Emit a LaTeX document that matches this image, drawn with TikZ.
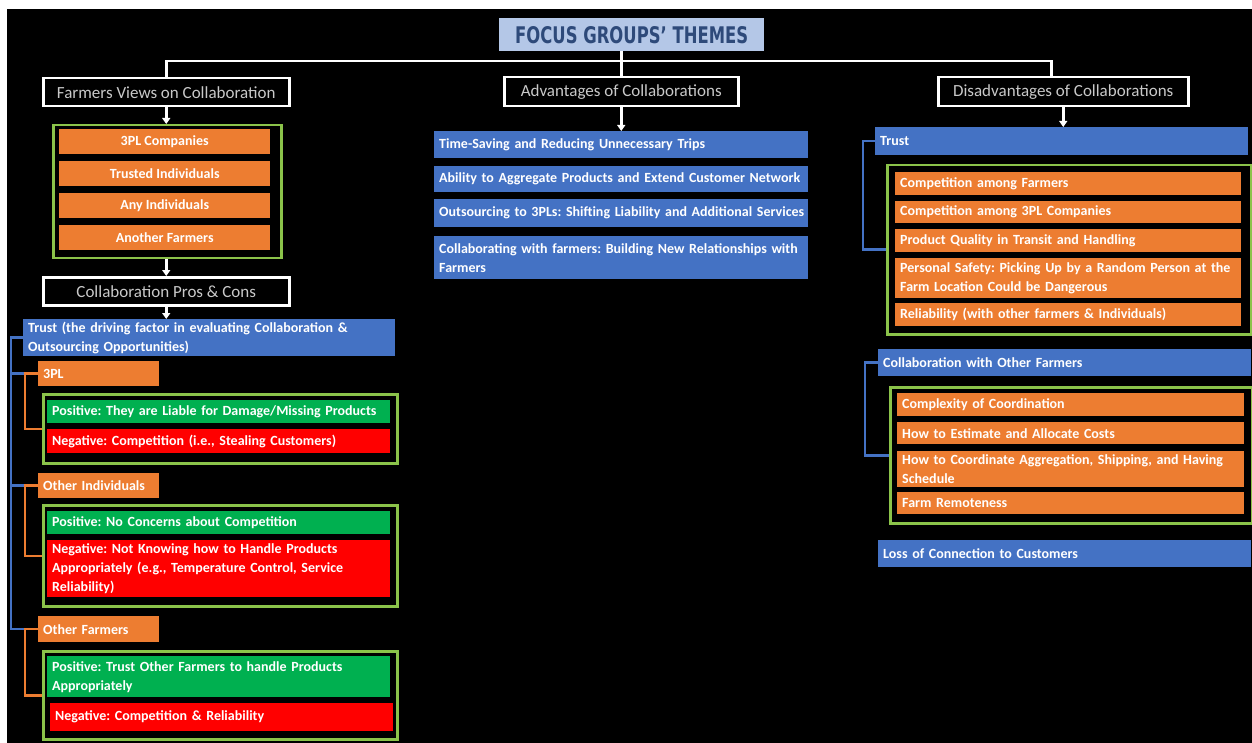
\documentclass[tikz,border=0pt]{standalone}
\usepackage{fontspec}
\usepackage{graphicx}
\setmainfont{Carlito}
\newfontfamily\titlefont{DejaVu Sans}
\usetikzlibrary{arrows.meta}
\definecolor{orng}{HTML}{ED7D31}
\definecolor{blu}{HTML}{4472C4}
\definecolor{grn}{HTML}{00B050}
\definecolor{rd}{HTML}{FF0000}
\definecolor{frm}{HTML}{8BC34A}
\definecolor{ttlfill}{HTML}{B4C7E7}
\definecolor{ttltext}{HTML}{2E4A7A}
\definecolor{hdrgray}{HTML}{C9C9C9}
\frenchspacing
\hyphenpenalty=10000
\exhyphenpenalty=10000
\hbadness=10000
\hfuzz=50pt
\tikzset{
  base/.style={anchor=north west, inner ysep=0pt, font=\bfseries\fontsize{14}{19}\selectfont, text=white},
  cbox/.style={base, inner xsep=0pt, align=center},
  lbox/.style={base, inner xsep=5pt, align=left},
  obox/.style={fill=orng},
  bbox/.style={fill=blu},
  gbox/.style={fill=grn},
  rbox/.style={fill=rd},
  hdr/.style={anchor=north west, draw=white, line width=2.5pt, fill=black, text=hdrgray,
              font=\fontsize{17}{20}\selectfont, inner sep=0pt},
  frame/.style={anchor=north west, draw=frm, line width=2.5pt, inner sep=0pt},
  wline/.style={draw=white, line width=2.5pt},
  warr/.style={draw=white, line width=2.5pt, -{Triangle[width=8pt,length=6pt]}},
  bline/.style={draw=blu, line width=2.5pt},
  oline/.style={draw=orng, line width=2.5pt},
}
\begin{document}
\frenchspacing
\begin{tikzpicture}[x=1pt,y=-1pt]
\useasboundingbox (0,0) rectangle (1252,743);
\fill[white] (0,0) rectangle (1252,743);
\fill[black] (7,9) rectangle (1252,743);

% title
\node[anchor=north west, fill=ttlfill, minimum width=265pt, minimum height=33pt, inner sep=0pt, text=ttltext]
  (title) at (499,18) {\resizebox{233pt}{17pt}{\titlefont\bfseries FOCUS GROUPS’ THEMES}};

% headers
\node[hdr, minimum width=246pt, minimum height=28pt] (fv) at (42,77) {Farmers Views on Collaboration};
\node[hdr, minimum width=234pt, minimum height=29pt] (adv) at (503,76) {Advantages of Collaborations};
\node[hdr, minimum width=250pt, minimum height=29pt] (dis) at (937,76) {Disadvantages of Collaborations};
\node[hdr, minimum width=246pt, minimum height=28pt] (pc) at (42,276) {Collaboration Pros \& Cons};

% farmers views group
\node[frame, minimum width=228pt, minimum height=133pt] (g1) at (52,124) {};
\node[cbox, obox, minimum width=211pt, minimum height=25pt] (f1) at (59,129) {3PL Companies};
\node[cbox, obox, minimum width=211pt, minimum height=25pt] (f2) at (59,161) {Trusted Individuals};
\node[cbox, obox, minimum width=211pt, minimum height=25pt] (f3) at (59,193) {Any Individuals};
\node[cbox, obox, minimum width=211pt, minimum height=25pt] (f4) at (59,225) {Another Farmers};

% advantages
\node[lbox, bbox, text width=364pt, minimum height=27pt] (m1) at (434,131) {Time-Saving and Reducing Unnecessary Trips};
\node[lbox, bbox, text width=364pt, minimum height=26pt] (m2) at (434,166) {Ability to Aggregate Products and Extend Customer Network};
\node[lbox, bbox, text width=364pt, minimum height=28pt] (m3) at (434,199) {\mbox{Outsourcing to 3PLs: Shifting Liability and Additional Services}};
\node[lbox, bbox, text width=364pt, minimum height=43pt] (m4) at (434,236) {Collaborating with farmers: Building New Relationships with\\Farmers};

% disadvantages
\node[lbox, bbox, text width=363pt, minimum height=28pt] (trustR) at (875,127) {Trust};
\node[frame, minimum width=364pt, minimum height=169pt] (gR1) at (886,164) {};
\node[lbox, obox, text width=336pt, minimum height=23pt] (r1) at (895,172) {Competition among Farmers};
\node[lbox, obox, text width=336pt, minimum height=22pt] (r2) at (895,201) {Competition among 3PL Companies};
\node[lbox, obox, text width=336pt, minimum height=23pt] (r3) at (895,229) {Product Quality in Transit and Handling};
\node[lbox, obox, text width=336pt, minimum height=40pt] (r4) at (895,258) {Personal Safety: Picking Up by a Random Person at the\\Farm Location Could be Dangerous};
\node[lbox, obox, text width=336pt, minimum height=23pt] (r5) at (895,303) {Reliability (with other farmers \& Individuals)};

\node[lbox, bbox, text width=363pt, minimum height=27pt] (cwf) at (878,349) {Collaboration with Other Farmers};
\node[frame, minimum width=362pt, minimum height=136pt] (gR2) at (889,386) {};
\node[lbox, obox, text width=337pt, minimum height=23pt] (s1) at (897,393) {Complexity of Coordination};
\node[lbox, obox, text width=337pt, minimum height=22pt] (s2) at (897,422) {How to Estimate and Allocate Costs};
\node[lbox, obox, text width=337pt, minimum height=36pt] (s3) at (897,451) {How to Coordinate Aggregation, Shipping, and Having\\Schedule};
\node[lbox, obox, text width=337pt, minimum height=22pt] (s4) at (897,492) {Farm Remoteness};
\node[lbox, bbox, text width=363pt, minimum height=27pt] (loss) at (878,540) {Loss of Connection to Customers};

% pros & cons
\node[lbox, bbox, text width=362pt, minimum height=37pt] (trustL) at (23,319) {Trust (the driving factor in evaluating Collaboration \&\\Outsourcing Opportunities)};
\node[lbox, obox, text width=111pt, minimum height=25pt] (p3) at (38,361) {3PL};
\node[frame, minimum width=354pt, minimum height=69pt] (g3) at (42,393) {};
\node[lbox, gbox, text width=333pt, minimum height=23pt] (pos3) at (47,400) {Positive: They are Liable for Damage/Missing Products};
\node[lbox, rbox, text width=333pt, minimum height=24pt] (neg3) at (47,429) {Negative: Competition (i.e., Stealing Customers)};

\node[lbox, obox, text width=111pt, minimum height=25pt] (oi) at (38,473) {Other Individuals};
\node[frame, minimum width=354pt, minimum height=101pt] (g4) at (42,504) {};
\node[lbox, gbox, text width=333pt, minimum height=23pt] (pos4) at (47,511) {Positive: No Concerns about Competition};
\node[lbox, rbox, text width=333pt, minimum height=57pt] (neg4) at (47,540) {Negative: Not Knowing how to Handle Products\\Appropriately (e.g., Temperature Control, Service\\Reliability)};

\node[lbox, obox, text width=111pt, minimum height=26pt] (of) at (38,616) {Other Farmers};
\node[frame, minimum width=354pt, minimum height=88pt] (g5) at (42,650) {};
\node[lbox, gbox, text width=333pt, minimum height=41pt] (pos5) at (47,656) {Positive: Trust Other Farmers to handle Products\\Appropriately};
\node[lbox, rbox, text width=333pt, minimum height=28pt] (neg5) at (50,703) {Negative: Competition \& Reliability};

% top connectors
\coordinate (bus) at (621,61);
\coordinate (lx) at (11,0);
\coordinate (ox) at (25,0);
\coordinate (rx1) at (863,0);
\coordinate (rx2) at (865,0);
\draw[wline] (title.south -| adv.north) -- (adv.north);
\draw[wline] (fv.north) -- (fv.north |- bus) -| ([xshift=-12pt]dis.north);

% arrows
\draw[warr] (fv.south) -- (fv.south |- g1.north);
\draw[warr] (g1.south -| pc.north) -- (pc.north);
\draw[warr] (pc.south) -- (pc.south |- trustL.north);
\draw[warr] (adv.south) -- (adv.south |- m1.north);
\draw[warr] (dis.south) -- (dis.south |- trustR.north);

% left brackets
\draw[bline] (trustL.west) -- (trustL.west -| lx) |- (of.west);
\draw[bline] (lx |- p3.west) -- (p3.west);
\draw[bline] (lx |- oi.west) -- (oi.west);
\draw[oline] (p3.west) -- (p3.west -| ox) |- (g3.west);
\draw[oline] (oi.west) -- (oi.west -| ox) |- (g4.west);
\draw[oline] (of.west) -- (of.west -| ox) |- (g5.west);

% right brackets
\draw[bline] (trustR.west) -- (trustR.west -| rx1) |- (gR1.west);
\draw[bline] (cwf.west) -- (cwf.west -| rx2) |- (gR2.west);
\end{tikzpicture}
\end{document}
